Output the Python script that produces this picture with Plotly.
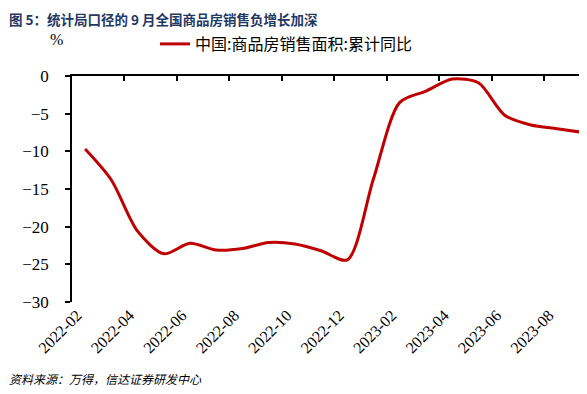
import plotly.graph_objects as go

months = ["2022-02", "2022-03", "2022-04", "2022-05", "2022-06", "2022-07", "2022-08",
          "2022-09", "2022-10", "2022-11", "2022-12", "2023-01", "2023-02", "2023-03",
          "2023-04", "2023-05", "2023-06", "2023-07", "2023-08", "2023-09"]
values = [-9.7, -13.8, -20.6, -23.6, -22.2, -23.1, -22.9, -22.1, -22.3, -23.2,
          -24.4, -13.6, -3.5, -2.0, -0.4, -0.9, -5.2, -6.5, -7.0, -7.5]
series_name = "中国:商品房销售面积:累计同比"
title_text = "<b>图 5：统计局口径的 9 月全国商品房销售负增长加深</b>"
source_text = "<i>资料来源：万得，信达证券研发中心</i>"
y_ticks = [0, -5, -10, -15, -20, -25, -30]

# page body has an 8px margin: work in window pixels, convert to figure pixels
OFF = 8
W, H = 587 - OFF, 394 - OFF
L = 71.5 - OFF
T = 76 - OFF
R = 0
B = H - (302 - OFF)
pw, ph = W - L - R, H - T - B

def px_x(p):  # window pixel -> paper
    return (p - OFF - L) / pw

def px_y(p):
    return (H - B - (p - OFF)) / ph

fig = go.Figure()
fig.add_trace(go.Scatter(
    x=months, y=values, mode="lines", name=series_name,
    line=dict(color="#C00000", width=3, shape="spline", smoothing=0.8),
    xaxis="x2", yaxis="y", showlegend=True, hoverinfo="skip"))
fig.add_trace(go.Scatter(
    x=months, y=values, mode="lines", line=dict(width=0), opacity=0,
    xaxis="x", yaxis="y", showlegend=False, hoverinfo="skip"))

xrange = [-0.5, 19.14]
fig.update_layout(
    width=W, height=H,
    margin=dict(l=L, r=R, t=T, b=B, pad=0, autoexpand=False),
    paper_bgcolor="white", plot_bgcolor="white",
    font=dict(family="Liberation Serif", color="black"),
    xaxis=dict(type="category", categoryorder="array", categoryarray=months,
               range=xrange, side="bottom", showline=False, ticks="",
               showgrid=False, zeroline=False, tickmode="linear", tick0=0, dtick=2,
               automargin=False, ticklabelshift=-8,
               tickangle=-45, tickfont=dict(family="Liberation Serif", size=16, color="black")),
    xaxis2=dict(type="category", categoryorder="array", categoryarray=months,
                range=xrange, overlaying="x", side="top", anchor="y",
                showline=True, linecolor="black", linewidth=1.5,
                ticks="inside", ticklen=5, tickwidth=1.5, tickcolor="black",
                tickson="boundaries", tickmode="linear", tick0=0, dtick=2,
                automargin=False,
                showticklabels=False, showgrid=False, zeroline=False),
    yaxis=dict(range=[-30, 0], tickvals=y_ticks, showline=True, linecolor="black",
               linewidth=1.5, ticks="outside", ticklen=5, tickwidth=1.5, tickcolor="black",
               showgrid=False, zeroline=False, ticklabelstandoff=13, automargin=False,
               tickfont=dict(family="Liberation Serif", size=17, color="black")),
    legend=dict(orientation="h", xref="container", yref="container",
                x=(155 - OFF) / W, y=1 - (44 - OFF) / H, xanchor="left", yanchor="middle",
                font=dict(family="Noto Sans CJK SC", size=16, color="black"),
                bgcolor="rgba(0,0,0,0)", itemwidth=30),
    showlegend=True,
    annotations=[
        dict(text=title_text, xref="paper", yref="paper", x=px_x(7), y=px_y(OFF),
             xanchor="left", yanchor="top", showarrow=False, borderpad=0,
             font=dict(family="Noto Sans CJK SC", size=13.5, color="#1F3864")),
        dict(text="%", xref="paper", yref="paper", x=px_x(56), y=px_y(40),
             xanchor="center", yanchor="middle", showarrow=False,
             font=dict(family="Liberation Serif", size=16, color="black")),
        dict(text=source_text, xref="paper", yref="paper", x=px_x(6), y=px_y(378),
             xanchor="left", yanchor="middle", showarrow=False,
             font=dict(family="Noto Sans CJK SC", size=12, color="black")),
    ],
)

fig.write_html("out.html")
